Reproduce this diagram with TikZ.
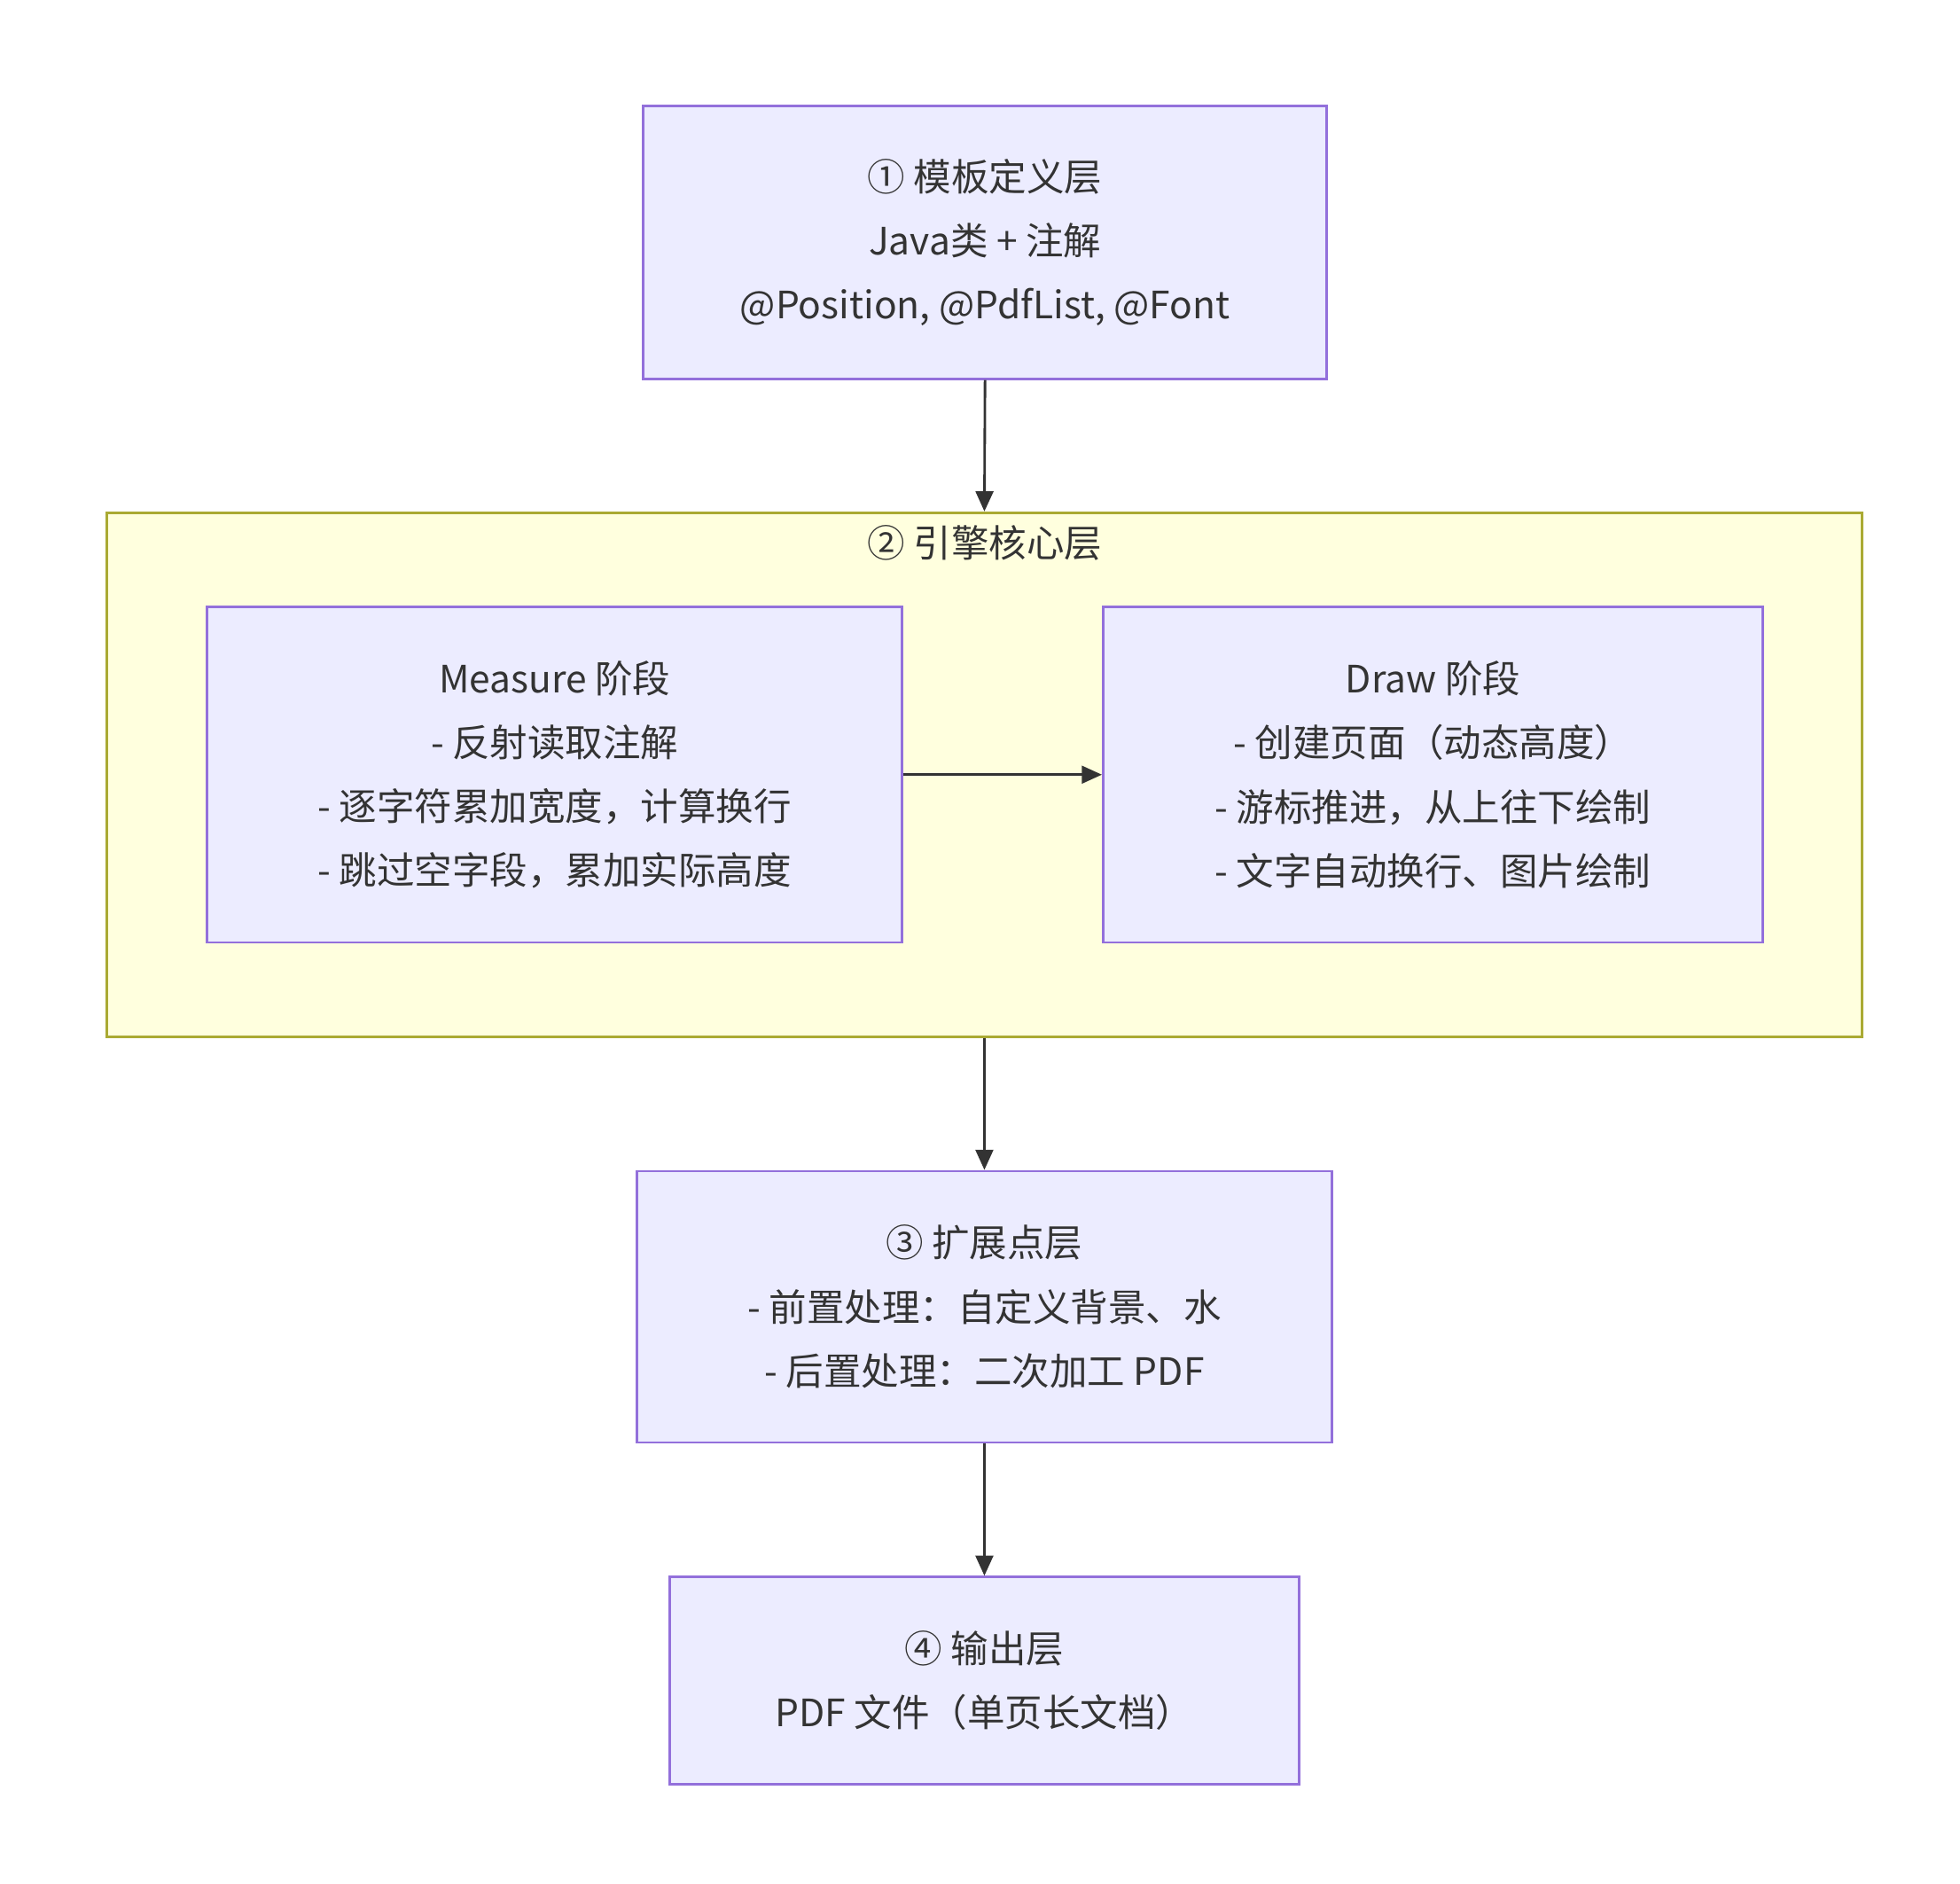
\documentclass[tikz,border=0pt]{standalone}
\usepackage{fontspec}
\setmainfont{Noto Sans CJK SC}
\usetikzlibrary{arrows.meta}
\definecolor{bfill}{HTML}{ECECFF}
\definecolor{bdraw}{HTML}{9370DB}
\definecolor{yfill}{HTML}{FFFFDE}
\definecolor{ydraw}{HTML}{AAAA33}
\definecolor{arr}{HTML}{333333}
\begin{document}
\begin{tikzpicture}[x=0.5pt,y=-0.5pt,
  box/.style={draw=bdraw,fill=bfill,line width=1pt,align=center,inner sep=0pt,text=black!80,
    font=\fontsize{15}{25.5}\selectfont},
  conn/.style={draw=arr,line width=1pt,-{Triangle[length=8pt,width=7pt]}}]
\useasboundingbox (0,0) rectangle (1560,1499);
\fill[white] (0,0) rectangle (1560,1499);
\node[box,minimum width=544pt*0.5,minimum height=217pt*0.5] (t) at (784,193)
  {① 模板定义层\\Java类 + 注解\\@Position, @PdfList, @Font};
\node[draw=ydraw,fill=yfill,line width=1pt,minimum width=1397*0.5pt,minimum height=417*0.5pt,inner sep=0pt] (core) at (783.5,616.5) {};
\node[font=\fontsize{15}{18}\selectfont,text=black!80] (ct) at (784,432) {② 引擎核心层};
\node[box,minimum width=553*0.5pt,minimum height=267*0.5pt] (m) at (441.5,616.5)
  {Measure 阶段\\- 反射读取注解\\- 逐字符累加宽度，计算换行\\- 跳过空字段，累加实际高度};
\node[box,minimum width=525*0.5pt,minimum height=267*0.5pt] (d) at (1140.5,616.5)
  {Draw 阶段\\- 创建页面（动态高度）\\- 游标推进，从上往下绘制\\- 文字自动换行、图片绘制};
\node[box,minimum width=553*0.5pt,minimum height=216*0.5pt] (e) at (783.5,1040)
  {③ 扩展点层\\- 前置处理：自定义背景、水\\- 后置处理：二次加工 PDF};
\node[box,minimum width=501*0.5pt,minimum height=165*0.5pt] (o) at (783.5,1337.5)
  {④ 输出层\\PDF 文件（单页长文档）};
\draw[conn] (t.south) -- (core.north);
\draw[conn] (m.east) -- (d.west);
\draw[conn] (core.south) -- (e.north);
\draw[conn] (e.south) -- (o.north);
\end{tikzpicture}
\end{document}
